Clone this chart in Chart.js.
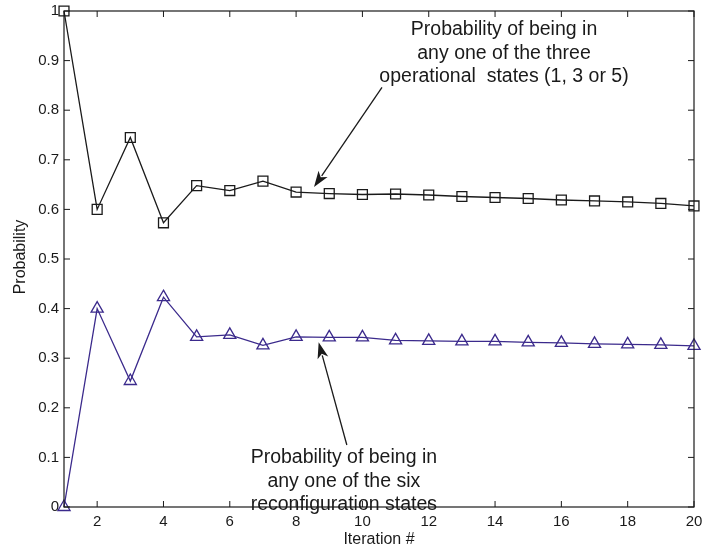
<!DOCTYPE html>
<html>
<head>
<meta charset="utf-8">
<script src="https://cdn.jsdelivr.net/npm/chart.js@4"></script>
<style>
  html, body { margin: 0; padding: 0; background: #fff; }
  #wrap { width: 704px; height: 550px; }
</style>
</head>
<body>
<div id="wrap"><canvas id="probChart" width="704" height="550"></canvas></div>
<script>
'use strict';

// ***** DATA *****
let iterations = [1, 2, 3, 4, 5, 6, 7, 8, 9, 10, 11, 12, 13, 14, 15, 16, 17, 18, 19, 20];
let operationalProb = [1.0, 0.60, 0.745, 0.573, 0.648, 0.638, 0.657, 0.635, 0.632, 0.630,
  0.631, 0.629, 0.626, 0.624, 0.622, 0.619, 0.617, 0.615, 0.612, 0.607];
let reconfigProb = [0.0, 0.40, 0.254, 0.423, 0.343, 0.347, 0.326, 0.343, 0.342, 0.342,
  0.336, 0.335, 0.334, 0.334, 0.332, 0.331, 0.329, 0.328, 0.327, 0.325];
let xTicks = [2, 4, 6, 8, 10, 12, 14, 16, 18, 20];
let yTicks = [0, 0.1, 0.2, 0.3, 0.4, 0.5, 0.6, 0.7, 0.8, 0.9, 1];

// annotation text + arrows, in data units
let notes = [
  {lines: ['Probability of being in', 'any one of the three', 'operational  states (1, 3 or 5)'],
    x: 14.27, y: 0.962, from: [10.59, 0.846], to: [8.54, 0.645]},
  {lines: ['Probability of being in', 'any one of the six', 'reconfiguration states'],
    x: 9.44, y: 0.099, from: [9.53, 0.125], to: [8.68, 0.332]}
];

const FONT = '"Liberation Sans", Arial, Helvetica, sans-serif';
const INK = '#1a1a1a';
const BLUE = '#3b2a8c';

function toPoints(vals){
  let pts = [];
  for(let i = 0; i < iterations.length; i++){
    pts.push({x: iterations[i], y: vals[i]});
  }
  return pts;
}

// ***** PLUGIN: frame, inward ticks, axis titles, annotations *****
let matlabLook = {
  id: 'matlabLook',
  afterDraw(chart){
    let ctx = chart.ctx;
    let a = chart.chartArea;
    let xs = chart.scales.x;
    let ys = chart.scales.y;
    ctx.save();
    ctx.strokeStyle = INK;
    ctx.lineWidth = 1.2;
    ctx.strokeRect(a.left, a.top, a.right - a.left, a.bottom - a.top);

    ctx.lineWidth = 1;
    ctx.beginPath();
    xTicks.forEach(function(t){
      let px = xs.getPixelForValue(t);
      ctx.moveTo(px, a.bottom); ctx.lineTo(px, a.bottom - 6);
      ctx.moveTo(px, a.top); ctx.lineTo(px, a.top + 6);
    });
    yTicks.forEach(function(t){
      let py = ys.getPixelForValue(t);
      ctx.moveTo(a.left, py); ctx.lineTo(a.left + 6, py);
      ctx.moveTo(a.right, py); ctx.lineTo(a.right - 6, py);
    });
    ctx.stroke();

    // axis titles
    ctx.fillStyle = INK;
    ctx.font = '16px ' + FONT;
    ctx.textAlign = 'center';
    ctx.textBaseline = 'middle';
    ctx.fillText('Iteration #', (a.left + a.right) / 2, 540);
    ctx.save();
    ctx.translate(21, 257);
    ctx.rotate(-Math.PI / 2);
    ctx.fillText('Probability', 0, 0);
    ctx.restore();

    // annotations
    ctx.font = '19.5px ' + FONT;
    notes.forEach(function(n){
      let cx = xs.getPixelForValue(n.x);
      let cy = ys.getPixelForValue(n.y);
      n.lines.forEach(function(line, i){
        ctx.fillText(line, cx, cy + i * 23.5);
      });
      let x0 = xs.getPixelForValue(n.from[0]);
      let y0 = ys.getPixelForValue(n.from[1]);
      let x1 = xs.getPixelForValue(n.to[0]);
      let y1 = ys.getPixelForValue(n.to[1]);
      let ang = Math.atan2(y1 - y0, x1 - x0);
      let len = 17;
      let wid = 0.33;
      ctx.beginPath();
      ctx.moveTo(x0, y0);
      ctx.lineTo(x1 - Math.cos(ang) * len * 0.8, y1 - Math.sin(ang) * len * 0.8);
      ctx.lineWidth = 1.3;
      ctx.stroke();
      ctx.beginPath();
      ctx.moveTo(x1, y1);
      ctx.lineTo(x1 - len * Math.cos(ang - wid), y1 - len * Math.sin(ang - wid));
      ctx.lineTo(x1 - len * 0.7 * Math.cos(ang), y1 - len * 0.7 * Math.sin(ang));
      ctx.lineTo(x1 - len * Math.cos(ang + wid), y1 - len * Math.sin(ang + wid));
      ctx.closePath();
      ctx.fill();
    });
    ctx.restore();
  }
};

// ***** CHART *****
const canvasElem = document.getElementById('probChart');

let chartObj = {
  type: 'line',
  data: {
    datasets: [{
      label: 'Operational states',
      data: toPoints(operationalProb),
      borderColor: INK,
      borderWidth: 1.3,
      pointStyle: 'rect',
      pointRadius: 7,
      pointBorderWidth: 1.3,
      pointBorderColor: INK,
      pointBackgroundColor: 'rgba(0,0,0,0)',
      clip: false,
      tension: 0
    },
    {
      label: 'Reconfiguration states',
      data: toPoints(reconfigProb),
      borderColor: BLUE,
      borderWidth: 1.3,
      pointStyle: 'triangle',
      pointRadius: 7,
      pointBorderWidth: 1.3,
      pointBorderColor: BLUE,
      pointBackgroundColor: 'rgba(0,0,0,0)',
      clip: false,
      tension: 0
    }]
  },
  options: {
    responsive: false,
    animation: false,
    layout: {padding: {left: 0, right: 10, top: 11, bottom: 0}},
    plugins: {
      legend: {display: false},
      tooltip: {enabled: false}
    },
    scales: {
      x: {
        type: 'linear',
        min: 1,
        max: 20,
        afterBuildTicks: function(scale){
          scale.ticks = xTicks.map(function(v){ return {value: v}; });
        },
        afterFit: function(scale){
          scale.height = 43;
          scale.paddingLeft = 0;
          scale.paddingRight = 0;
        },
        grid: {display: false, drawTicks: false},
        border: {display: false},
        ticks: {
          color: INK,
          font: {family: FONT, size: 15},
          padding: 6,
          maxRotation: 0,
          autoSkip: false
        }
      },
      y: {
        type: 'linear',
        min: 0,
        max: 1,
        afterBuildTicks: function(scale){
          scale.ticks = yTicks.map(function(v){ return {value: v}; });
        },
        afterFit: function(scale){
          scale.width = 64;
          scale.paddingTop = 0;
          scale.paddingBottom = 0;
        },
        grid: {display: false, drawTicks: false},
        border: {display: false},
        ticks: {
          color: INK,
          font: {family: FONT, size: 15},
          padding: 5,
          autoSkip: false,
          callback: function(v){ return String(Math.round(v * 10) / 10); }
        }
      }
    }
  },
  plugins: [matlabLook]
};

new Chart(canvasElem, chartObj);
</script>
</body>
</html>
